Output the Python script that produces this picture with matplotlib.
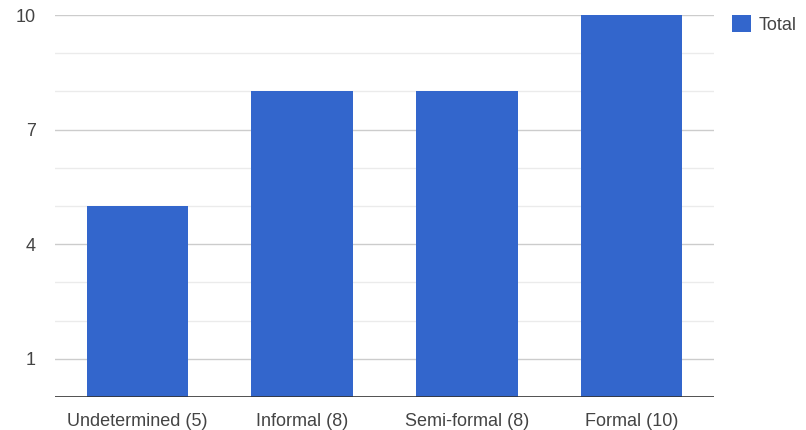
import matplotlib
matplotlib.use("Agg")
import matplotlib.pyplot as plt
from matplotlib.patches import Patch

categories = ["Undetermined (5)", "Informal (8)", "Semi-formal (8)", "Formal (10)"]
totals = [5, 8, 8, 10]
major_ticks = [1, 4, 7, 10]
minor_ticks = [2, 3, 5, 6, 8, 9]
series_name = "Total"

bar_color = "#3366cc"
text_color = "#444444"
font_size = 13

plt.rcParams["font.family"] = ["Liberation Sans", "DejaVu Sans"]

fig = plt.figure(figsize=(8.06, 4.30), dpi=100)
ax = fig.add_axes([55 / 806, 33 / 430, 659 / 806, 382 / 430])

x = list(range(len(categories)))
ax.bar(x, totals, width=0.615, color=bar_color, zorder=3)

ax.set_xlim(-0.5, len(categories) - 0.5)
ax.set_ylim(0, 10)

# gridlines: darker at labelled values, lighter in between
for v in minor_ticks:
    ax.axhline(v, color="#ebebeb", linewidth=1, zorder=1)
for v in major_ticks:
    ax.axhline(v, color="#cccccc", linewidth=1, zorder=1)
ax.axhline(0, color="#333333", linewidth=1.2, zorder=4)

ax.set_yticks(major_ticks)
ax.set_yticklabels([str(v) for v in major_ticks])
ax.set_xticks(x)
ax.set_xticklabels(categories)
ax.tick_params(axis="both", length=0, colors=text_color, labelsize=font_size)
ax.tick_params(axis="y", pad=13.7)
ax.tick_params(axis="x", pad=11.5)

for s in ax.spines.values():
    s.set_visible(False)

handle = Patch(facecolor=bar_color, edgecolor="none")
fig.legend([handle], [series_name], loc="upper left",
           bbox_to_anchor=(732 / 806, 1 - 15 / 430), frameon=False,
           borderpad=0, borderaxespad=0,
           handlelength=1.05, handleheight=1.05, handletextpad=0.45,
           prop={"size": font_size}, labelcolor=text_color)

fig.savefig("out.png", dpi=100)
